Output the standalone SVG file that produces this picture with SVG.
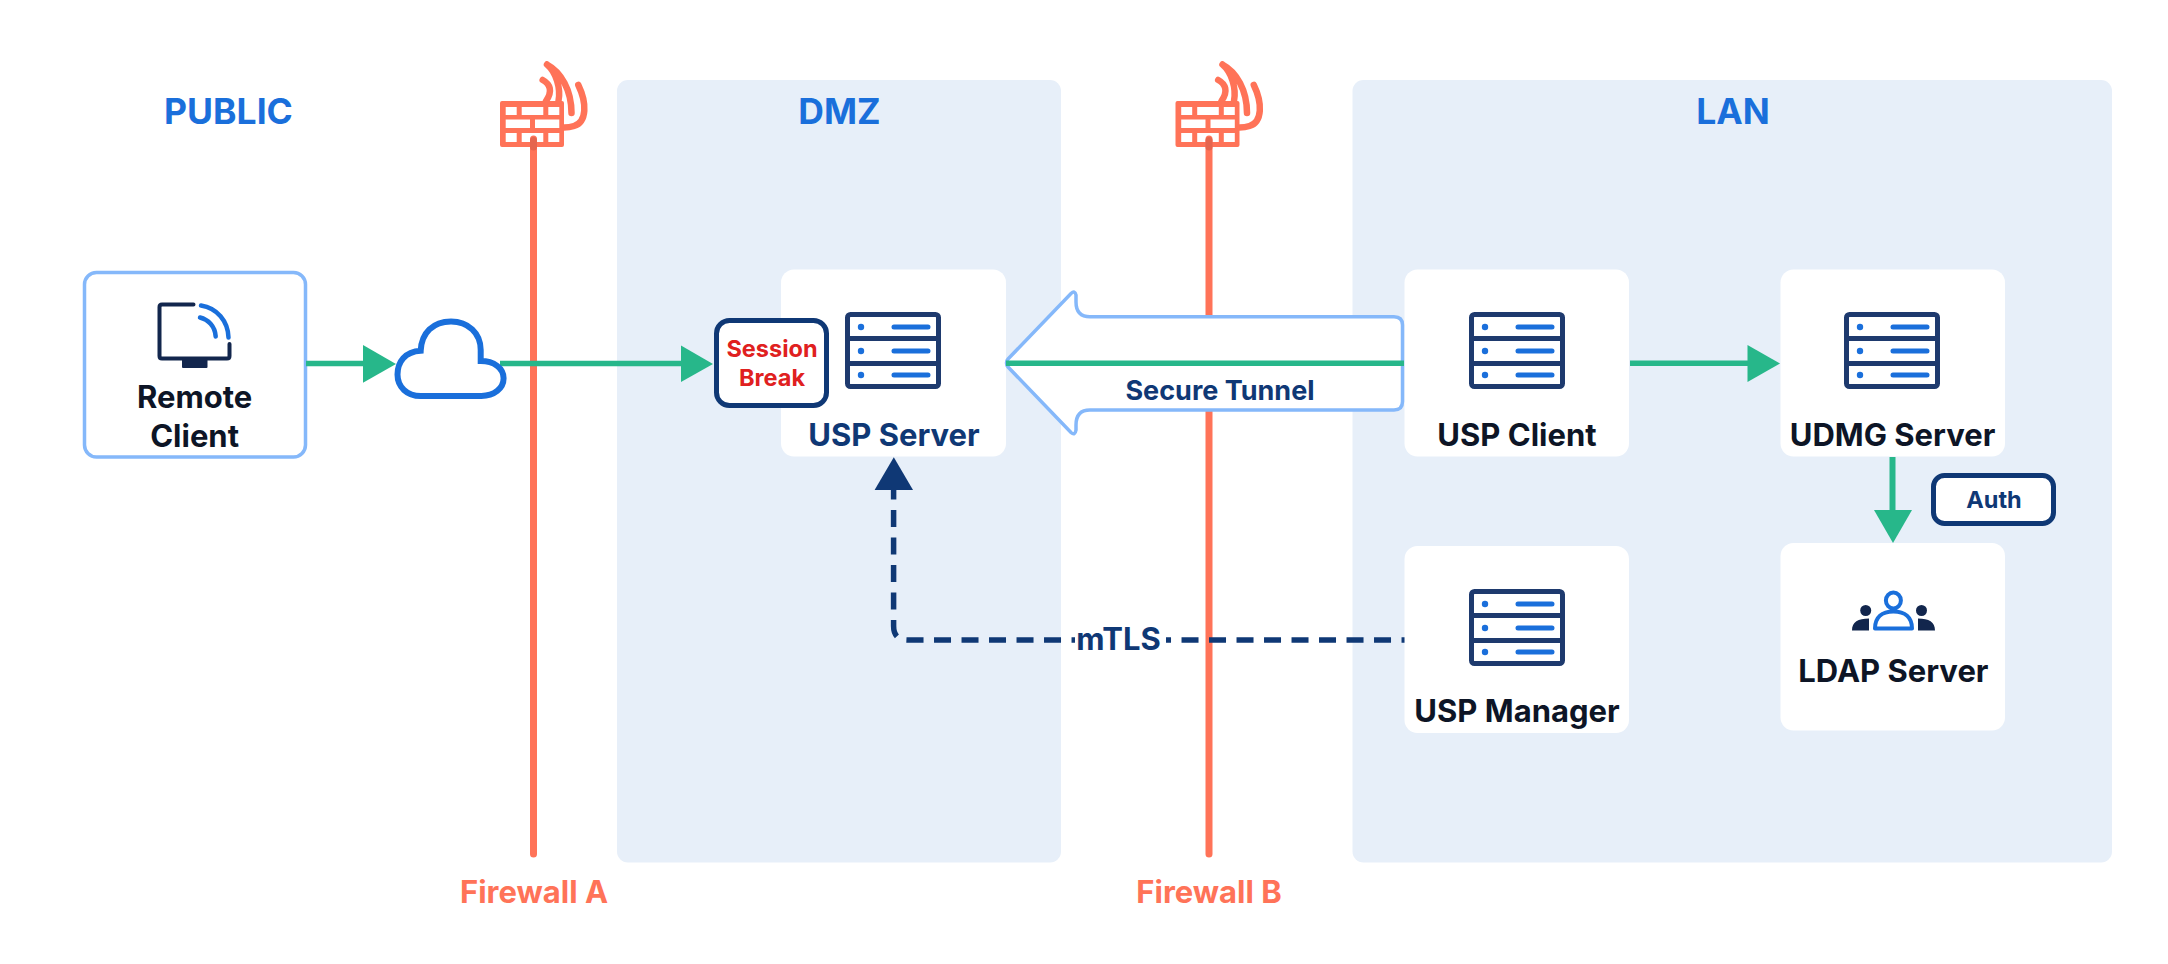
<svg xmlns="http://www.w3.org/2000/svg" width="2168" height="964" viewBox="0 0 2168 964">
<style>
text{font-family:Inter,Roboto,"Liberation Sans",sans-serif;font-weight:700;text-anchor:middle}
.zone{fill:#e7eff9}
.card{fill:#fff}
.zl{font-size:35.500px;fill:#1a6fdb}
.fl{font-size:31px;fill:#ff7358}
.dark{font-size:31px;fill:#0d1526}
.navy{font-size:31px;fill:#0f3875}
.green{stroke:#27b78a;stroke-width:5.500;fill:none}
.gh{fill:#27b78a}
.fw{stroke:#ff7358;stroke-width:7;stroke-linecap:round;fill:none}
</style>
<defs>
<g id="server">
<rect x="2.500" y="2.500" width="91" height="72" rx="3" fill="#fff" stroke="#1e3a6e" stroke-width="5"/>
<path d="M2.500 26.500H93.500M2.500 51.500H93.500" stroke="#1e3a6e" stroke-width="5" fill="none"/>
<path d="M49 15H83M49 39H83M49 63H83" stroke="#1a6fdb" stroke-width="5" stroke-linecap="round" fill="none"/>
<circle cx="16" cy="15" r="3.200" fill="#1a6fdb"/><circle cx="16" cy="39" r="3.200" fill="#1a6fdb"/><circle cx="16" cy="63" r="3.200" fill="#1a6fdb"/>
</g>
<g id="wall">
<path fill-rule="evenodd" fill="#ff7358" d="M502 101H562Q564 101 564 103V145Q564 147 562 147H502Q500 147 500 145V103Q500 101 502 101ZM505.700 107V115H516.700V107ZM521.700 107V115H543.300V107ZM548.300 107V115H559.300V107ZM505.700 119.500V128H530V119.500ZM535 119.500V128H559.300V119.500ZM505.700 133V142H516.700V133ZM521.700 133V142H543.300V133ZM548.300 133V142H559.300V133Z"/>
<path fill="none" stroke="#ff7358" stroke-width="6.500" stroke-linecap="round" stroke-linejoin="round" d="M547 64.500C561 72 571.500 90 571.500 113M547 64.500C556 72 561 88 558.500 101M542.700 80C550 84 553 91 546 101M578.300 85C587 103 587 122 574 126C571 127 568 127.500 564 127.500"/>
</g>
</defs>

<g id="zones">
<rect id="zone-dmz" class="zone" x="617" y="80" width="444" height="782.500" rx="11"/>
<rect id="zone-lan" class="zone" x="1352.500" y="80" width="759.500" height="782.500" rx="11"/>
</g>

<g id="firewall-a">
<use href="#wall"/>
<path class="fw" d="M533.500 139V854"/>
<path d="M533.500 140.500V147" stroke="#e5654e" stroke-width="7" stroke-linecap="round" fill="none"/>
<text class="fl" x="534" y="903">Firewall A</text>
</g>
<g id="firewall-b">
<use href="#wall" x="675.500"/>
<path class="fw" d="M1209 139V854"/>
<path d="M1209 140.500V147" stroke="#e5654e" stroke-width="7" stroke-linecap="round" fill="none"/>
<text class="fl" x="1209" y="903">Firewall B</text>
</g>

<g id="labels">
<text class="zl" x="228.500" y="124">PUBLIC</text>
<text class="zl" x="839.500" y="124">DMZ</text>
<text class="zl" x="1733" y="124">LAN</text>
</g>

<g id="usp-server">
<rect class="card" x="781" y="269.500" width="225" height="187" rx="13"/>
<use href="#server" x="845" y="312"/>
<text class="navy" x="894" y="446">USP Server</text>
</g>
<g id="usp-client">
<rect class="card" x="1404.500" y="269.500" width="224.500" height="187" rx="13"/>
<use href="#server" x="1469" y="312"/>
<text class="dark" x="1517" y="446">USP Client</text>
</g>
<g id="udmg-server">
<rect class="card" x="1780.500" y="269.500" width="224.500" height="187" rx="13"/>
<use href="#server" x="1844" y="312"/>
<text class="dark" x="1892.500" y="446">UDMG Server</text>
</g>
<g id="usp-manager">
<rect class="card" x="1404.500" y="546" width="224.500" height="187" rx="13"/>
<use href="#server" x="1469" y="589"/>
<text class="dark" x="1517" y="722">USP Manager</text>
</g>
<g id="ldap-server">
<rect class="card" x="1780.500" y="543" width="224.500" height="187.500" rx="13"/>
<ellipse cx="1893.400" cy="600.500" rx="7.500" ry="8" fill="none" stroke="#1a6fdb" stroke-width="4"/>
<path d="M1875 628.500C1875 617 1882 611.500 1893.400 611.500C1905 611.500 1912 617 1912 628.500Z" fill="none" stroke="#1a6fdb" stroke-width="4" stroke-linejoin="round"/>
<circle cx="1865.700" cy="610.500" r="5.500" fill="#12264d"/><circle cx="1921.500" cy="610.500" r="5.500" fill="#12264d"/>
<path d="M1852 630.500C1852 622 1858 618.500 1869 618.500V630.500ZM1935 630.500C1935 622 1929 618.500 1918 618.500V630.500Z" fill="#12264d"/>
<text class="dark" x="1893.400" y="682">LDAP Server</text>
</g>

<g id="remote-client">
<rect x="84.500" y="272.500" width="221" height="184.500" rx="12" fill="#fff" stroke="#85b8fa" stroke-width="3.500"/>
<path d="M193.500 304.500H162Q159.500 304.500 159.500 307V356Q159.500 358.500 162 358.500H227Q229.500 358.500 229.500 356V344" fill="none" stroke="#12264d" stroke-width="4" stroke-linecap="round"/>
<rect x="182" y="358" width="25.500" height="10" rx="1" fill="#12264d"/>
<path d="M201 305.500C217 308 228 321 228.500 337.500M200 317.500C208 319.500 215 326 215.700 336.500" fill="none" stroke="#1a6fdb" stroke-width="4.500" stroke-linecap="round"/>
<text class="dark" x="194.600" y="408">Remote</text>
<text class="dark" x="194.600" y="447">Client</text>
</g>

<g id="connectors">
<path class="green" d="M306 363.500H364"/>
<path class="gh" d="M363 345L396 364L363 382.700Z"/>
<path class="green" d="M500 363.500H682"/>
<path class="gh" d="M681 345.500L713 364L681 382Z"/>
<path d="M1006.500 363C1006.500 361 1007 360 1008 359L1071 293.500Q1075 290 1076 295V302Q1076 316.700 1090 316.700H1394Q1402.500 316.700 1402.500 325V401.500Q1402.500 410 1394 410H1090Q1076 410 1076 425V430Q1075 436 1071 432.500L1008 367C1007 366 1006.500 365 1006.500 363Z" fill="#fff" stroke="#85b8fa" stroke-width="3.500"/>
<path class="green" d="M1006 363.300H1404"/>
<path class="green" d="M1630 363.300H1748"/>
<path class="gh" d="M1747.500 345L1780 363.500L1747.500 382Z"/>
<path class="green" d="M1892.500 457V511" style="stroke-width:6"/>
<path class="gh" d="M1874 510H1912L1893 543Z"/>
<path d="M893.600 490V626Q893.600 640 907.600 640H1404.500" fill="none" stroke="#0f3875" stroke-width="5.500" stroke-dasharray="17 10.500" stroke-dashoffset="7.500"/>
<path d="M874.600 490H913L893.800 457.300Z" fill="#0f3875"/>
<rect x="1075" y="620" width="91" height="40" fill="#fff"/>
</g>

<g id="edge-labels">
<text class="navy" x="1118.500" y="650">mTLS</text>
<text class="navy" x="1220" y="400" style="font-size:27px">Secure Tunnel</text>
</g>

<g id="session-break">
<rect x="716.500" y="320.500" width="110" height="85" rx="13" fill="#fff" stroke="#0f3875" stroke-width="5"/>
<text x="772" y="357" style="font-size:23.500px" fill="#e02020">Session</text>
<text x="772" y="386" style="font-size:23.500px" fill="#e02020">Break</text>
</g>
<g id="auth">
<rect x="1933.500" y="475.500" width="120" height="48" rx="11" fill="#fff" stroke="#0f3875" stroke-width="5"/>
<text x="1994" y="508" style="font-size:23.500px" fill="#0f3875">Auth</text>
</g>
<g id="cloud">
<path d="M420.700 350.700C405 351.500 397.500 362 397.500 374.500C397.500 387 407 396 420.700 396H481.400C494 396 503.600 388.500 503.600 378.300C503.600 368 494 361 480.700 361V350C480.700 333 468 321.500 451 321.500C433 321.500 421.500 333 420.700 350.700Z" fill="#fff" stroke="#1a6fdb" stroke-width="6"/>
</g>
</svg>
